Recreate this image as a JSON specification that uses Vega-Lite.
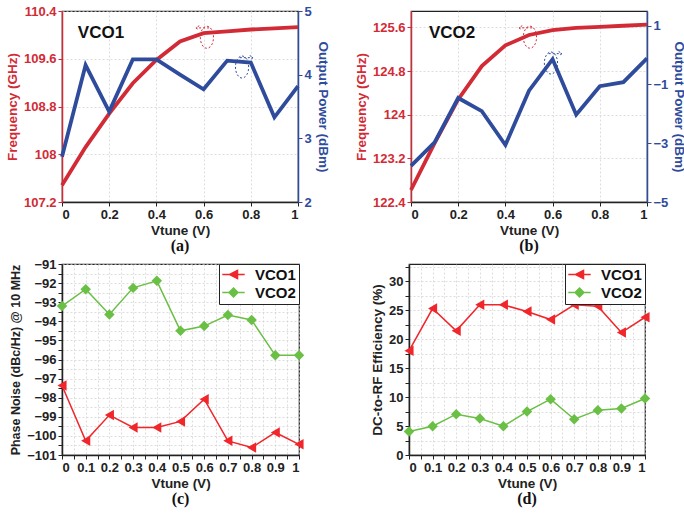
{
  "$schema": "https://vega.github.io/schema/vega-lite/v6.json",
  "background": "white",
  "padding": {"left": 4, "top": 4, "right": 5, "bottom": 0},
  "datasets": {
    "tune": [
      {"v": 0, "f1": 107.48, "p1": 2.71, "f2": 122.62, "p2": -3.77},
      {"v": 0.1, "f1": 108.12, "p1": 4.15, "f2": 123.48, "p2": -2.97},
      {"v": 0.2, "f1": 108.68, "p1": 3.42, "f2": 124.28, "p2": -1.46},
      {"v": 0.3, "f1": 109.19, "p1": 4.24, "f2": 124.89, "p2": -1.91},
      {"v": 0.4, "f1": 109.58, "p1": 4.24, "f2": 125.27, "p2": -3.06},
      {"v": 0.5, "f1": 109.89, "p1": 4.0, "f2": 125.46, "p2": -1.21},
      {"v": 0.6, "f1": 110.03, "p1": 3.77, "f2": 125.55, "p2": -0.14},
      {"v": 0.7, "f1": 110.06, "p1": 4.22, "f2": 125.59, "p2": -2.03},
      {"v": 0.8, "f1": 110.09, "p1": 4.19, "f2": 125.61, "p2": -1.06},
      {"v": 0.9, "f1": 110.11, "p1": 3.33, "f2": 125.63, "p2": -0.92},
      {"v": 1, "f1": 110.13, "p1": 3.82, "f2": 125.65, "p2": -0.11}
    ],
    "perf": [
      {"v": 0, "vco": "VCO1", "pn": -97.36, "eff": 18.0},
      {"v": 0.1, "vco": "VCO1", "pn": -100.26, "eff": 25.3},
      {"v": 0.2, "vco": "VCO1", "pn": -98.91, "eff": 21.45},
      {"v": 0.3, "vco": "VCO1", "pn": -99.56, "eff": 25.95},
      {"v": 0.4, "vco": "VCO1", "pn": -99.56, "eff": 25.95},
      {"v": 0.5, "vco": "VCO1", "pn": -99.24, "eff": 24.8},
      {"v": 0.6, "vco": "VCO1", "pn": -98.08, "eff": 23.4},
      {"v": 0.7, "vco": "VCO1", "pn": -100.26, "eff": 25.95},
      {"v": 0.8, "vco": "VCO1", "pn": -100.61, "eff": 25.7},
      {"v": 0.9, "vco": "VCO1", "pn": -99.82, "eff": 21.16},
      {"v": 1, "vco": "VCO1", "pn": -100.44, "eff": 23.8},
      {"v": 0, "vco": "VCO2", "pn": -93.2, "eff": 4.05},
      {"v": 0.1, "vco": "VCO2", "pn": -92.32, "eff": 4.97},
      {"v": 0.2, "vco": "VCO2", "pn": -93.64, "eff": 7.05},
      {"v": 0.3, "vco": "VCO2", "pn": -92.25, "eff": 6.3},
      {"v": 0.4, "vco": "VCO2", "pn": -91.88, "eff": 4.97},
      {"v": 0.5, "vco": "VCO2", "pn": -94.5, "eff": 7.5},
      {"v": 0.6, "vco": "VCO2", "pn": -94.25, "eff": 9.65},
      {"v": 0.7, "vco": "VCO2", "pn": -93.67, "eff": 6.18},
      {"v": 0.8, "vco": "VCO2", "pn": -93.93, "eff": 7.75},
      {"v": 0.9, "vco": "VCO2", "pn": -95.78, "eff": 8.03},
      {"v": 1, "vco": "VCO2", "pn": -95.78, "eff": 9.77}
    ],
    "one": [{"a": 1}]
  },
  "config": {
    "font": "Liberation Sans",
    "view": {"stroke": "#222", "strokeWidth": 1.2},
    "axis": {
      "labelFont": "Liberation Sans", "labelFontWeight": "bold", "labelFontSize": 13,
      "titleFont": "Liberation Sans", "titleFontWeight": "bold", "titleFontSize": 13.5,
      "gridColor": "#cfcfcf", "gridDash": [2, 2], "gridWidth": 0.7, "labelOverlap": false,
      "tickSize": 4, "domainWidth": 1.5, "labelPadding": 2, "titlePadding": 4,
      "labelColor": "#222", "titleColor": "#222", "domainColor": "#222", "tickColor": "#222"
    },
    "legend": {
      "orient": "top-right", "offset": 0, "strokeColor": "#222", "fillColor": "white", "padding": 3,
      "labelFont": "Liberation Sans", "labelFontSize": 15, "labelFontWeight": "bold", "labelColor": "#111",
      "symbolSize": 64, "labelOffset": 14, "rowPadding": 2, "symbolStrokeWidth": 1.5, "symbolOffset": 4
    },
    "title": {"font": "Liberation Serif", "fontSize": 16, "fontWeight": "bold", "color": "#111", "orient": "bottom", "offset": 1}
  },
  "resolve": {"scale": {"color": "independent"}, "legend": {"color": "independent"}},
  "spacing": 2,
  "vconcat": [
    {
      "spacing": 23,
      "hconcat": [
        {
          "width": 236, "height": 191,
          "title": {"text": "(a)"},
          "layer": [
            {
              "layer": [
                {"data": {"name": "tune"}, "mark": {"type": "line", "color": "#d22b36", "strokeWidth": 3.8},
                  "encoding": {
                    "x": {"field": "v", "type": "quantitative", "scale": {"domain": [0, 1], "nice": false},
                      "axis": {"title": "Vtune (V)", "values": [0,0.05,0.1,0.15,0.2,0.25,0.3,0.35,0.4,0.45,0.5,0.55,0.6,0.65,0.7,0.75,0.8,0.85,0.9,0.95,1], "format": ".2~f", "labelExpr": "round(datum.value*20)%2==0 ? datum.label : ''", "titlePadding": 2}},
                    "y": {"field": "f1", "type": "quantitative", "scale": {"domain": [107.2, 110.4], "nice": false, "zero": false},
                    "axis": {"title": "Frequency (GHz)", "values": [107.2,107.4,107.6,107.8,108,108.2,108.4,108.6,108.8,109,109.2,109.4,109.6,109.8,110,110.2,110.4], "format": ".1~f", "labelExpr": "round(datum.value*5)%2==0 ? datum.label : ''", "labelColor": "#d22b36", "titleColor": "#d22b36", "domainColor": "#d22b36", "tickColor": "#d22b36"}}}},
                {"data": {"name": "one"}, "mark": {"type": "text", "text": "VCO1", "fontSize": 17, "fontWeight": "bold", "font": "Liberation Sans", "color": "#111"},
                  "encoding": {"x": {"datum": 0.165, "type": "quantitative"}, "y": {"datum": 110.03, "type": "quantitative"}}},
                {"data": {"name": "one"}, "mark": {"type": "point", "shape": "M 0 -1 C 0.331 -1 0.6 -0.552 0.6 0 C 0.6 0.552 0.331 1 0 1 C -0.331 1 -0.6 0.552 -0.6 0 C -0.6 -0.552 -0.331 -1 0 -1 M 0.2 -0.85 L -1.0 -0.85 M -0.7 -1.05 L -1.0 -0.85 L -0.7 -0.65", "size": 484, "filled": false, "stroke": "#d22b36", "strokeWidth": 1, "strokeDash": [2, 2], "opacity": 1},
                  "encoding": {"x": {"datum": 0.614, "type": "quantitative"}, "y": {"datum": 109.96, "type": "quantitative"}}}
              ]
            },
            {
              "layer": [
                {"data": {"name": "tune"}, "mark": {"type": "line", "color": "#2f4b9c", "strokeWidth": 3.8},
                  "encoding": {
                    "x": {"field": "v", "type": "quantitative"},
                    "y": {"field": "p1", "type": "quantitative", "scale": {"domain": [2, 5], "nice": false, "zero": false},
                    "axis": {"orient": "right", "title": "Output Power (dBm)", "values": [2,2.25,2.5,2.75,3,3.25,3.5,3.75,4,4.25,4.5,4.75,5], "format": ".1~f", "labelExpr": "round(datum.value*4)%2==0 ? datum.label : ''", "labelColor": "#2f4b9c", "titleColor": "#2f4b9c", "domainColor": "#2f4b9c", "tickColor": "#2f4b9c", "grid": false}}}},
                {"data": {"name": "one"}, "mark": {"type": "point", "shape": "M 0 -1 C 0.331 -1 0.6 -0.552 0.6 0 C 0.6 0.552 0.331 1 0 1 C -0.331 1 -0.6 0.552 -0.6 0 C -0.6 -0.552 -0.331 -1 0 -1 M -0.2 -0.85 L 1.0 -0.85 M 0.7 -1.05 L 1.0 -0.85 L 0.7 -0.65", "size": 484, "filled": false, "stroke": "#2f4b9c", "strokeWidth": 1, "strokeDash": [2, 2], "opacity": 1},
                  "encoding": {"x": {"datum": 0.763, "type": "quantitative"}, "y": {"datum": 4.12, "type": "quantitative"}}}
              ]
            }
          ],
          "resolve": {"scale": {"y": "independent"}}
        },
        {
          "width": 236, "height": 191,
          "title": {"text": "(b)"},
          "layer": [
            {
              "layer": [
                {"data": {"name": "tune"}, "mark": {"type": "line", "color": "#d22b36", "strokeWidth": 3.8},
                  "encoding": {
                    "x": {"field": "v", "type": "quantitative", "scale": {"domain": [0, 1], "nice": false},
                      "axis": {"title": "Vtune (V)", "values": [0,0.05,0.1,0.15,0.2,0.25,0.3,0.35,0.4,0.45,0.5,0.55,0.6,0.65,0.7,0.75,0.8,0.85,0.9,0.95,1], "format": ".2~f", "labelExpr": "round(datum.value*20)%2==0 ? datum.label : ''", "titlePadding": 2}},
                    "y": {"field": "f2", "type": "quantitative", "scale": {"domain": [122.4, 125.9], "nice": false, "zero": false},
                    "axis": {"title": "Frequency (GHz)", "values": [122.4,122.6,122.8,123,123.2,123.4,123.6,123.8,124,124.2,124.4,124.6,124.8,125,125.2,125.4,125.6,125.8], "format": ".1~f", "labelExpr": "round(datum.value*5)%2==0 ? datum.label : ''", "labelColor": "#d22b36", "titleColor": "#d22b36", "domainColor": "#d22b36", "tickColor": "#d22b36"}}}},
                {"data": {"name": "one"}, "mark": {"type": "text", "text": "VCO2", "fontSize": 17, "fontWeight": "bold", "font": "Liberation Sans", "color": "#111"},
                  "encoding": {"x": {"datum": 0.174, "type": "quantitative"}, "y": {"datum": 125.5, "type": "quantitative"}}},
                {"data": {"name": "one"}, "mark": {"type": "point", "shape": "M 0 -1 C 0.331 -1 0.6 -0.552 0.6 0 C 0.6 0.552 0.331 1 0 1 C -0.331 1 -0.6 0.552 -0.6 0 C -0.6 -0.552 -0.331 -1 0 -1 M 0.2 -0.85 L -1.0 -0.85 M -0.7 -1.05 L -1.0 -0.85 L -0.7 -0.65", "size": 484, "filled": false, "stroke": "#d22b36", "strokeWidth": 1, "strokeDash": [2, 2], "opacity": 1},
                  "encoding": {"x": {"datum": 0.504, "type": "quantitative"}, "y": {"datum": 125.42, "type": "quantitative"}}}
              ]
            },
            {
              "layer": [
                {"data": {"name": "tune"}, "mark": {"type": "line", "color": "#2f4b9c", "strokeWidth": 3.8},
                  "encoding": {
                    "x": {"field": "v", "type": "quantitative"},
                    "y": {"field": "p2", "type": "quantitative", "scale": {"domain": [-5, 1.5], "nice": false, "zero": false},
                    "axis": {"orient": "right", "title": "Output Power (dBm)", "values": [-5,-4.5,-4,-3.5,-3,-2.5,-2,-1.5,-1,-0.5,0,0.5,1,1.5], "format": ".1~f", "labelExpr": "abs(round(datum.value*2))%2==0 ? datum.label : ''", "labelColor": "#2f4b9c", "titleColor": "#2f4b9c", "domainColor": "#2f4b9c", "tickColor": "#2f4b9c", "grid": false}}}},
                {"data": {"name": "one"}, "mark": {"type": "point", "shape": "M 0 -1 C 0.331 -1 0.6 -0.552 0.6 0 C 0.6 0.552 0.331 1 0 1 C -0.331 1 -0.6 0.552 -0.6 0 C -0.6 -0.552 -0.331 -1 0 -1 M -0.2 -0.85 L 1.0 -0.85 M 0.7 -1.05 L 1.0 -0.85 L 0.7 -0.65", "size": 484, "filled": false, "stroke": "#2f4b9c", "strokeWidth": 1, "strokeDash": [2, 2], "opacity": 1},
                  "encoding": {"x": {"datum": 0.593, "type": "quantitative"}, "y": {"datum": -0.27, "type": "quantitative"}}}
              ]
            }
          ],
          "resolve": {"scale": {"y": "independent"}}
        }
      ]
    },
    {
      "spacing": 64,
      "resolve": {"scale": {"color": "independent"}, "legend": {"color": "independent"}},
      "hconcat": [
        {
          "width": 237, "height": 191,
          "title": {"text": "(c)"},
          "data": {"name": "perf"},
          "encoding": {
            "x": {"field": "v", "type": "quantitative", "scale": {"domain": [0, 1], "nice": false},
              "axis": {"title": "Vtune (V)", "values": [0,0.05,0.1,0.15,0.2,0.25,0.3,0.35,0.4,0.45,0.5,0.55,0.6,0.65,0.7,0.75,0.8,0.85,0.9,0.95,1], "format": ".2~f", "labelExpr": "round(datum.value*20)%2==0 ? datum.label : ''", "titlePadding": 2}},
            "y": {"field": "pn", "type": "quantitative", "scale": {"domain": [-101, -91], "nice": false, "zero": false},
              "axis": {"title": "Phase Noise (dBc/Hz) @ 10 MHz", "titleFontSize": 12.5, "values": [-101,-100.5,-100,-99.5,-99,-98.5,-98,-97.5,-97,-96.5,-96,-95.5,-95,-94.5,-94,-93.5,-93,-92.5,-92,-91.5,-91], "format": ".0f", "labelExpr": "abs(round(datum.value*2))%2==0 ? datum.label : ''"}},
            "color": {"field": "vco", "type": "nominal", "scale": {"domain": ["VCO1", "VCO2"], "range": ["#f0262b", "#6abf45"]},
              "legend": {"title": null,
                "encode": {"symbols": {"update": {"shape": {"signal": "datum.value === 'VCO1' ? 'M -2.8 0 L 2.8 0 M 1 -1 L -1 0 L 1 1 Z' : 'M -2.8 0 L 2.8 0 M 0 -1.1 L 1.1 0 L 0 1.1 L -1.1 0 Z'"}}}}}}
          },
          "layer": [
            {"mark": {"type": "line", "strokeWidth": 1.5}},
            {"transform": [{"filter": "datum.vco === 'VCO1'"}], "mark": {"type": "point", "shape": "triangle-left", "filled": true, "opacity": 1, "size": 110}},
            {"transform": [{"filter": "datum.vco === 'VCO2'"}], "mark": {"type": "point", "shape": "diamond", "filled": true, "opacity": 1, "size": 110}}
          ]
        },
        {
          "width": 236, "height": 191,
          "title": {"text": "(d)"},
          "data": {"name": "perf"},
          "encoding": {
            "x": {"field": "v", "type": "quantitative", "scale": {"domain": [0, 1], "nice": false},
              "axis": {"title": "Vtune (V)", "values": [0,0.05,0.1,0.15,0.2,0.25,0.3,0.35,0.4,0.45,0.5,0.55,0.6,0.65,0.7,0.75,0.8,0.85,0.9,0.95,1], "format": ".2~f", "labelExpr": "round(datum.value*20)%2==0 ? datum.label : ''", "titlePadding": 2}},
            "y": {"field": "eff", "type": "quantitative", "scale": {"domain": [0, 33], "nice": false, "zero": false},
              "axis": {"title": "DC-to-RF Efficiency (%)", "values": [0,2.5,5,7.5,10,12.5,15,17.5,20,22.5,25,27.5,30,32.5], "format": "~g", "labelExpr": "round(datum.value*2)%10==0 ? datum.label : ''"}},
            "color": {"field": "vco", "type": "nominal", "scale": {"domain": ["VCO1", "VCO2"], "range": ["#f0262b", "#6abf45"]},
              "legend": {"title": null,
                "encode": {"symbols": {"update": {"shape": {"signal": "datum.value === 'VCO1' ? 'M -2.8 0 L 2.8 0 M 1 -1 L -1 0 L 1 1 Z' : 'M -2.8 0 L 2.8 0 M 0 -1.1 L 1.1 0 L 0 1.1 L -1.1 0 Z'"}}}}}}
          },
          "layer": [
            {"mark": {"type": "line", "strokeWidth": 1.5}},
            {"transform": [{"filter": "datum.vco === 'VCO1'"}], "mark": {"type": "point", "shape": "triangle-left", "filled": true, "opacity": 1, "size": 110}},
            {"transform": [{"filter": "datum.vco === 'VCO2'"}], "mark": {"type": "point", "shape": "diamond", "filled": true, "opacity": 1, "size": 110}}
          ]
        }
      ]
    }
  ]
}
